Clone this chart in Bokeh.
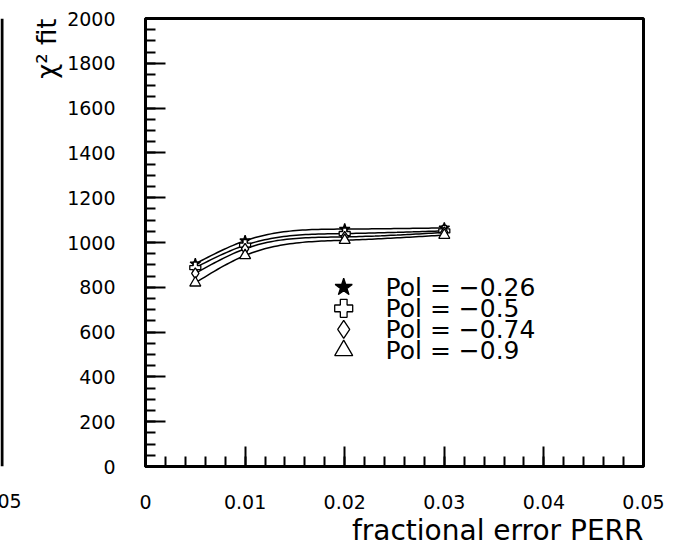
import numpy as np
from bokeh.plotting import figure
from bokeh.layouts import row
from bokeh.models import Range1d, FixedTicker, Title
from bokeh.embed import file_html
from bokeh.resources import INLINE
from bokeh.core.properties import value

# ---- data ----
perr = [0.005, 0.01, 0.02, 0.03]
chi_m026 = [905, 1008, 1060, 1065]
chi_m05 = [888, 988, 1040, 1052]
chi_m074 = [862, 972, 1025, 1045]
chi_m09 = [820, 942, 1010, 1033]
series_labels = ["Pol = \u22120.26", "Pol = \u22120.5", "Pol = \u22120.74", "Pol = \u22120.9"]
xticks = [0, 0.01, 0.02, 0.03, 0.04, 0.05]
xtick_labels = ["0", "0.01", "0.02", "0.03", "0.04", "0.05"]
yticks = [0, 200, 400, 600, 800, 1000, 1200, 1400, 1600, 1800, 2000]
x_title = "fractional error PERR"
y_title = "\u03c7\u00b2 fit"
# legend block placement (x of symbol, x of text, row heights) in plot units
leg_sym_x = 0.0199
leg_txt_x = 0.0241
leg_rows = [800, 706, 612, 518]
# neighbouring (cropped) panel: its last x tick label
nb_label = "0.05"

FONT = "DejaVu Sans"
H = 549
FR_TOP, FR_BOT = 18, 466          # frame top / bottom in pixels
KX = 0.05 / 498                   # x units per pixel


def smooth(xs, ys, n=80):
    """natural cubic spline drawn through the given points"""
    x = np.asarray(xs, float)
    y = np.asarray(ys, float)
    k = len(x)
    h = np.diff(x)
    A = np.zeros((k, k))
    r = np.zeros(k)
    A[0, 0] = A[-1, -1] = 1
    for i in range(1, k - 1):
        A[i, i - 1] = h[i - 1]
        A[i, i] = 2 * (h[i - 1] + h[i])
        A[i, i + 1] = h[i]
        r[i] = 6 * ((y[i + 1] - y[i]) / h[i] - (y[i] - y[i - 1]) / h[i - 1])
    M = np.linalg.solve(A, r)
    xx = np.linspace(x[0], x[-1], n)
    yy = np.empty_like(xx)
    for j, t in enumerate(xx):
        i = min(np.searchsorted(x, t, side="right") - 1, k - 2)
        a = x[i + 1] - t
        b = t - x[i]
        yy[j] = (M[i] * a ** 3 / (6 * h[i]) + M[i + 1] * b ** 3 / (6 * h[i])
                 + (y[i] / h[i] - M[i] * h[i] / 6) * a
                 + (y[i + 1] / h[i] - M[i + 1] * h[i] / 6) * b)
    return xx, yy


# ---- remnant of neighbouring panel (left edge) ----
LW = 23
left = figure(width=LW, height=H, output_backend="svg", toolbar_location=None,
              y_axis_type=None,
              x_range=Range1d(0.05, 0.05 + LW * KX), y_range=Range1d(0, 2000),
              min_border_left=0, min_border_right=0, min_border_top=FR_TOP,
              min_border_bottom=H - FR_BOT)
left.grid.visible = False
left.outline_line_color = None
left.xaxis.ticker = FixedTicker(ticks=[])
left.xaxis.axis_line_color = None
left.xaxis.major_tick_line_color = None
left.xaxis.minor_tick_line_color = None
left.xaxis.axis_label = nb_label
left.xaxis.axis_label_align = "start"
left.xaxis.axis_label_standoff = 27
left.xaxis.axis_label_text_font = FONT
left.xaxis.axis_label_text_font_size = "19px"
left.xaxis.axis_label_text_font_style = "normal"
left.xaxis.axis_label_text_color = "black"
left.segment(x0=[0.05 + 1.5 * KX], y0=[0], x1=[0.05 + 1.5 * KX], y1=[2000],
             line_color="black", line_width=3)

# ---- main panel ----
W = 655
p = figure(width=W, height=H, output_backend="svg", toolbar_location=None,
           x_range=Range1d(0, 0.05), y_range=Range1d(0, 2000),
           min_border_left=145 - LW, min_border_right=W - (643 - LW),
           min_border_top=FR_TOP, min_border_bottom=H - FR_BOT)
p.grid.visible = False
p.background_fill_color = "white"
p.border_fill_color = "white"
p.outline_line_color = "black"
p.outline_line_width = 3

p.xaxis.ticker = FixedTicker(ticks=xticks,
                             minor_ticks=[i * 0.002 for i in range(26)])
p.xaxis.major_label_overrides = dict(zip(xticks, xtick_labels))
p.yaxis.ticker = FixedTicker(ticks=yticks, minor_ticks=list(range(0, 2001, 50)))
for ax in (p.xaxis[0], p.yaxis[0]):
    ax.axis_line_width = 3
    ax.axis_line_color = "black"
    ax.major_tick_in = 20
    ax.major_tick_out = 0
    ax.minor_tick_in = 10
    ax.minor_tick_out = 0
    ax.major_tick_line_width = 2
    ax.minor_tick_line_width = 2
    ax.major_tick_line_color = "black"
    ax.minor_tick_line_color = "black"
    ax.major_label_text_font = FONT
    ax.major_label_text_font_size = "19px"
    ax.major_label_text_color = "black"
p.xaxis.major_label_standoff = 28
p.yaxis.major_label_standoff = 30

# axis titles (right/top aligned as in the original)
p.add_layout(Title(text=x_title, align="right", standoff=0, text_font=FONT,
                   text_font_size="28px", text_font_style="normal",
                   text_color="black"), "below")
p.add_layout(Title(text=y_title, align="right", standoff=6, text_font=FONT,
                   text_font_size="26px", text_font_style="normal",
                   text_color="black"), "left")

# curves and markers
series = [chi_m026, chi_m05, chi_m074, chi_m09]
markers = ["star", "plus", "diamond", "triangle"]
fills = ["black", "white", "white", "white"]
for ys, mk, fc in zip(series, markers, fills):
    sx, sy = smooth(perr, ys)
    p.line(sx, sy, line_color="black", line_width=1.5)
    p.scatter(perr, ys, marker=mk, size=11, fill_color=fc, line_color="black",
              line_width=1.3)

# legend block
p.scatter([leg_sym_x] * 4, leg_rows, marker=markers, size=18,
          fill_color=fills, line_color="black", line_width=1.3)
p.text([leg_txt_x] * 4, leg_rows, text=series_labels, text_align="left",
       text_baseline="middle", text_font=value(FONT), text_font_size="25px",
       text_color="black")

layout = row(left, p)
open("out.html", "w").write(file_html(layout, INLINE))
